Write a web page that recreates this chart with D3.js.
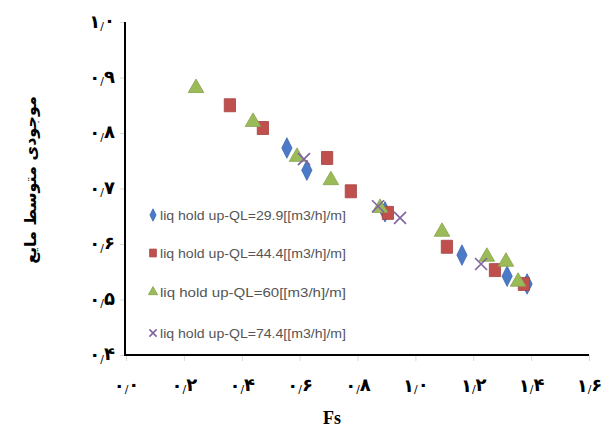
<!DOCTYPE html>
<html><head><meta charset="utf-8">
<script src="https://cdn.jsdelivr.net/npm/d3@7"></script>
<style>body{margin:0;background:#fff}svg{display:block}</style>
</head><body>
<svg id="c" width="603" height="432"></svg>
<script>
const seriesNames = ["liq hold up-QL=29.9[[m3/h]/m]","liq hold up-QL=44.4[[m3/h]/m]","liq hold up-QL=60[[m3/h]/m]","liq hold up-QL=74.4[[m3/h]/m]"];
const fs1 = [0.556,0.625,0.895,1.161,1.317,1.386];
const h1  = [0.773,0.733,0.658,0.580,0.542,0.528];
const fs2 = [0.359,0.473,0.695,0.777,0.905,1.109,1.275,1.375];
const h2  = [0.850,0.809,0.755,0.695,0.656,0.595,0.553,0.528];
const fs3 = [0.242,0.439,0.591,0.708,0.878,1.092,1.247,1.313,1.355];
const h3  = [0.881,0.820,0.757,0.715,0.665,0.622,0.577,0.568,0.532];
const fs4 = [0.615,0.871,0.947,1.227];
const h4  = [0.753,0.668,0.647,0.564];
const xTicks = [0,0.2,0.4,0.6,0.8,1.0,1.2,1.4,1.6];
const yTicks = [0.4,0.5,0.6,0.7,0.8,0.9,1.0];
const xTitle = "Fs";
const yTitle = "موجودی متوسط مایع";

const colors = ["#4a7ac8","#c0504d","#9bbb59","#8064a2"];
const svg = d3.select("#c");
const x = d3.scaleLinear().domain([0,1.6]).range([126,589]);
const y = d3.scaleLinear().domain([0.4,1.0]).range([355,22]);
const digits = "۰۱۲۳۴۵۶۷۸۹";
function fa(sel) {
  sel.each(function(d){
    const s = d.toFixed(1).split(".");
    const t = d3.select(this).text(null).attr("direction","ltr");
    t.append("tspan").text(digits[+s[0]]);
    t.append("tspan").attr("font-size","0.6em").attr("font-weight","normal").attr("dy","0.15em").text("/");
    t.append("tspan").attr("dy","-0.15em").text(digits[+s[1]]);
  });
}

const gx = svg.append("g").attr("transform","translate(0,355)")
  .call(d3.axisBottom(x).tickValues(xTicks).tickSize(6).tickPadding(18));
gx.select(".domain").remove();
gx.selectAll("line").attr("stroke","#d8d8d8");
gx.selectAll("text").attr("font-family","DejaVu Sans").attr("font-weight","bold").attr("font-size",18).attr("fill","#000").call(fa);
const gy = svg.append("g").attr("transform","translate(125,0)")
  .call(d3.axisLeft(y).tickValues(yTicks).tickSize(5).tickPadding(5));
gy.select(".domain").remove();
gy.selectAll("line").attr("stroke","#d8d8d8");
gy.selectAll("text").attr("font-family","DejaVu Sans").attr("font-weight","bold").attr("font-size",18).attr("fill","#000").call(fa);

svg.append("line").attr("x1",125).attr("x2",125).attr("y1",y(1.0)).attr("y2",356).attr("stroke","#000").attr("stroke-width",2);
svg.append("line").attr("x1",124).attr("x2",x(1.6)).attr("y1",355).attr("y2",355).attr("stroke","#000").attr("stroke-width",2);

const shapes = [d3.symbolDiamond, d3.symbolSquare, d3.symbolTriangle, null];
const sizes = [100, 140, 105, 0];
function drawMark(g, i, px, py, scale) {
  if (i === 3) {
    const r = 6*scale;
    g.append("path").attr("d",`M${px-r},${py-r}L${px+r},${py+r}M${px-r},${py+r}L${px+r},${py-r}`)
      .attr("stroke",colors[3]).attr("stroke-width",1.6);
  } else {
    g.append("path").attr("transform",`translate(${px},${py})` + (i===0?" scale(0.95,1.1)":"") + (i===1?" scale(0.95,1.1)":""))
      .attr("d", d3.symbol().type(shapes[i]).size(sizes[i]*scale*scale)())
      .attr("fill",colors[i]).attr("stroke",d3.color(colors[i]).darker(0.4)).attr("stroke-width",0.8);
  }
}
const data = [[fs1,h1],[fs2,h2],[fs3,h3],[fs4,h4]];
const pg = svg.append("g");
data.forEach(([xs,ys],i)=>xs.forEach((v,k)=>drawMark(pg,i,x(v),y(ys[k]),1)));

const lg = svg.append("g");
const rows = [215,253,292,333];
seriesNames.forEach((n,i)=>{
  drawMark(lg,i,153,rows[i],0.6);
  lg.append("text").attr("x",160).attr("y",rows[i]+5).text(n)
    .attr("font-family","Liberation Sans Narrow, Liberation Sans").attr("font-size",13)
    .attr("fill","#555").attr("textLength",186).attr("lengthAdjust","spacingAndGlyphs");
});

svg.append("text").attr("x",332).attr("y",424).attr("text-anchor","middle")
  .attr("font-family","Liberation Serif").attr("font-weight","bold").attr("font-size",18).text(xTitle);
svg.append("text").attr("transform","translate(36,180) rotate(-90)").attr("text-anchor","middle")
  .attr("font-family","DejaVu Sans").attr("font-weight","bold").attr("font-size",16).attr("direction","rtl").text(yTitle);
</script>
</body></html>
